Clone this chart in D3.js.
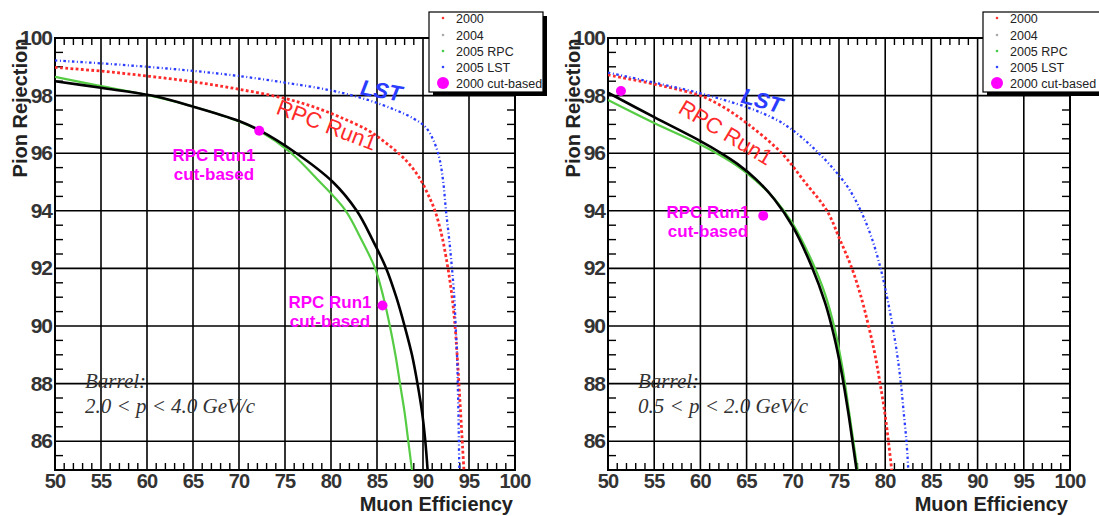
<!DOCTYPE html>
<html><head><meta charset="utf-8">
<script src="https://cdn.jsdelivr.net/npm/d3@7"></script>
<style>body{margin:0;background:#fff;} svg{display:block;}</style>
</head><body>
<svg id="c" width="1099" height="516"></svg>
<script>
// ---------- data ----------
const xTickValues = [50,55,60,65,70,75,80,85,90,95,100];
const yTickValues = [86,88,90,92,94,96,98,100];
const legendLabels = ["2000","2004","2005 RPC","2005 LST","2000 cut-based"];

// Left panel: Barrel 2.0 < p < 4.0 GeV/c  ([muon eff, pion rej])
const left2000 = [[50,98.98],[55,98.85],[60,98.68],[65,98.48],[70,98.22],[75,97.9],[78,97.62],[81,97.25],[84,96.8],[86,96.35],[88,95.8],[89.5,95.2],[90.5,94.6],[91.3,94.0],[92,93.2],[92.5,92.4],[93,91.4],[93.4,90.3],[93.75,88.8],[94.05,87.2],[94.3,85.8],[94.45,85]];
const left2004 = [[50,98.5],[55,98.27],[60.5,98],[65,97.62],[70,97.12],[72.2,96.8],[76,96.05],[80.2,95],[82.8,94],[84.5,93],[86.0,92],[87.1,91],[88.0,90],[88.8,89],[89.4,88],[89.9,87],[90.25,86],[90.5,85]];
const left2005RPC = [[50,98.65],[55,98.33],[60,98.02],[65,97.62],[70,97.1],[72.2,96.78],[75.5,96.05],[78.8,95],[81.6,94],[83.3,93],[84.8,92],[85.7,91],[86.4,90],[87.0,89],[87.5,88],[88.0,87],[88.4,86],[88.8,85]];
const left2005LST = [[50,99.22],[55,99.12],[60,99.0],[65,98.86],[70,98.68],[75,98.45],[80,98.18],[84,97.85],[87,97.5],[89,97.2],[90.3,96.9],[91.2,96.4],[91.8,95.8],[92.2,95],[92.5,94],[92.85,93],[93.15,92],[93.4,91],[93.55,90],[93.7,89],[93.78,88],[93.85,87],[93.9,86],[93.95,85]];
const leftCut = [[72.2,96.78],[85.6,90.71]];

// Right panel: Barrel 0.5 < p < 2.0 GeV/c
const right2000 = [[50,98.72],[55,98.4],[58,98.18],[60,98.0],[62.5,97.6],[65.2,97],[68.8,96],[71.3,95],[73.7,94],[75.1,93],[76.4,92],[77.4,91],[78.2,90],[78.9,89],[79.45,88],[79.95,87],[80.35,86],[80.7,85]];
const right2004 = [[50,98.1],[55,97.25],[60,96.42],[62,96.05],[64,95.63],[66,95.1],[68,94.4],[70,93.45],[72,92.1],[73.5,90.8],[74.5,89.6],[75.3,88.35],[76,87.0],[76.5,85.9],[76.9,85]];
const right2005RPC = [[50,97.85],[55,97.05],[60,96.3],[62,95.95],[64,95.55],[66,95.05],[68,94.42],[70,93.55],[72,92.3],[73.5,91.1],[74.5,89.95],[75.4,88.5],[76.1,87.0],[76.6,85.9],[77.0,85]];
const right2005LST = [[50,98.8],[55,98.45],[60,98.08],[65,97.6],[68,97.2],[70,96.8],[72,96.25],[74,95.6],[76,94.8],[77.5,93.9],[78.6,93],[79.5,92],[80.2,91],[80.8,90],[81.3,89],[81.7,88],[82.0,87],[82.3,86],[82.5,85]];
const rightCut = [[51.4,98.16],[66.8,93.83]];

// ---------- drawing ----------
const svg = d3.select("#c");
const FONT = "'Liberation Sans', Arial, sans-serif";
const SERIF = "'Liberation Serif', 'Times New Roman', serif";
const RED = "#ff2a2a", BLUE = "#2a3cff", GREEN = "#55cc44", MAG = "#ff00ff";

function panel(o) {
  const g = svg.append("g");
  const x = d3.scaleLinear().domain([50,100]).range([o.x0, o.x1]);
  const y = d3.scaleLinear().domain([85,100]).range([470, 38]);
  const id = "clip" + o.key;
  svg.append("clipPath").attr("id", id).append("rect")
    .attr("x", o.x0).attr("y", 38).attr("width", o.x1 - o.x0).attr("height", 432);

  // grid
  g.selectAll(".gx").data(xTickValues.slice(1,-1)).join("line")
    .attr("x1", d=>x(d)).attr("x2", d=>x(d)).attr("y1", 38).attr("y2", 470)
    .attr("stroke", "#000").attr("stroke-width", 1.6);
  g.selectAll(".gy").data(yTickValues.slice(0,-1)).join("line")
    .attr("y1", d=>y(d)).attr("y2", d=>y(d)).attr("x1", o.x0).attr("x2", o.x1)
    .attr("stroke", "#000").attr("stroke-width", 1.6);

  // minor ticks
  const xm = d3.range(51,100,1).filter(v=>v%5!==0);
  const ym = d3.range(85.5,100,0.5).filter(v=>v%2!==0);
  g.selectAll(".mxb").data(xm).join("line")
    .attr("x1", d=>x(d)).attr("x2", d=>x(d)).attr("y1", 470).attr("y2", 463)
    .attr("stroke", "#000").attr("stroke-width", 1.4);
  g.selectAll(".mxt").data(xm).join("line")
    .attr("x1", d=>x(d)).attr("x2", d=>x(d)).attr("y1", 38).attr("y2", 45)
    .attr("stroke", "#000").attr("stroke-width", 1.4);
  g.selectAll(".myl").data(ym).join("line")
    .attr("y1", d=>y(d)).attr("y2", d=>y(d)).attr("x1", o.x0).attr("x2", o.x0+8)
    .attr("stroke", "#000").attr("stroke-width", 1.4);
  g.selectAll(".myr").data(ym).join("line")
    .attr("y1", d=>y(d)).attr("y2", d=>y(d)).attr("x1", o.x1).attr("x2", o.x1-8)
    .attr("stroke", "#000").attr("stroke-width", 1.4);

  // frame
  g.append("rect").attr("x", o.x0).attr("y", 38).attr("width", o.x1-o.x0).attr("height", 432)
    .attr("fill", "none").attr("stroke", "#000").attr("stroke-width", 2);

  // tick labels
  g.selectAll(".xl").data(xTickValues).join("text")
    .attr("x", d=>x(d)).attr("y", 488).attr("text-anchor", "middle")
    .attr("font-family", FONT).attr("font-weight", "bold").attr("font-size", 20)
    .attr("letter-spacing", -0.8).attr("fill", "#333").text(d=>d);
  g.selectAll(".yl").data(yTickValues).join("text")
    .attr("x", o.x0 - 3).attr("y", d=>y(d) + 7).attr("text-anchor", "end")
    .attr("font-family", FONT).attr("font-weight", "bold").attr("font-size", 21)
    .attr("letter-spacing", -1).attr("fill", "#333").text(d=>d);

  // axis titles
  g.append("text").attr("x", o.x1 - 2).attr("y", 511).attr("text-anchor", "end")
    .attr("font-family", FONT).attr("font-weight", "bold").attr("font-size", 20)
    .attr("fill", "#222").text("Muon Efficiency");
  g.append("text").attr("transform", `translate(${o.x0-28},108) rotate(-90)`)
    .attr("text-anchor", "middle").attr("font-family", FONT).attr("font-weight", "bold")
    .attr("font-size", 20).attr("fill", "#222").text("Pion Rejection");

  // curves
  const line = d3.line().x(d=>x(d[0])).y(d=>y(d[1])).curve(d3.curveCatmullRom.alpha(0.5));
  const cg = g.append("g").attr("clip-path", `url(#${id})`);
  cg.append("path").attr("d", line(o.rpc)).attr("fill", "none").attr("stroke", GREEN).attr("stroke-width", 2.2);
  cg.append("path").attr("d", line(o.black)).attr("fill", "none").attr("stroke", "#000").attr("stroke-width", 2.6);
  cg.append("path").attr("d", line(o.red)).attr("fill", "none").attr("stroke", RED).attr("stroke-width", 2.8)
    .attr("stroke-dasharray", "2.8,2.4");
  cg.append("path").attr("d", line(o.blue)).attr("fill", "none").attr("stroke", BLUE).attr("stroke-width", 2.3)
    .attr("stroke-dasharray", "2.5,2.5,1,2.5");
  cg.selectAll(".cut").data(o.cut).join("circle")
    .attr("cx", d=>x(d[0])).attr("cy", d=>y(d[1])).attr("r", 5).attr("fill", MAG);

  // annotations
  o.notes.forEach(n => {
    const t = g.append("text").attr("transform", `translate(${n.x},${n.y}) rotate(${n.r||0})`)
      .attr("text-anchor", n.anchor || "middle").attr("font-family", n.family || FONT)
      .attr("font-weight", n.weight || "bold").attr("font-style", n.style || "normal")
      .attr("font-size", n.size).attr("fill", n.color);
    if (n.lines) {
      n.lines.forEach((l,i)=> t.append("tspan").attr("x", 0).attr("dy", i===0 ? 0 : n.lh).text(l));
    } else t.text(n.text);
  });

  // legend
  const lg = svg.append("g");
  const lw = o.legW;
  lg.append("rect").attr("x", o.legX+4).attr("y", 16).attr("width", lw).attr("height", 80).attr("fill", "#000");
  lg.append("rect").attr("x", o.legX).attr("y", 12).attr("width", lw).attr("height", 80)
    .attr("fill", "#fff").attr("stroke", "#000").attr("stroke-width", 1.2);
  const lid = "lclip" + o.key;
  svg.append("clipPath").attr("id", lid).append("rect")
    .attr("x", o.legX).attr("y", 12).attr("width", lw - 1).attr("height", 80);
  const cols = ["#ff3333", "#aaaaaa", "#44cc44", "#3344ff", MAG];
  const rowsY = [18, 35, 51, 67, 83];
  legendLabels.forEach((l,i)=>{
    lg.append("circle").attr("cx", o.legX+14).attr("cy", rowsY[i]).attr("r", i===4 ? 6 : 1.3).attr("fill", cols[i]);
    lg.append("text").attr("x", o.legX+27).attr("y", rowsY[i]+4.5).attr("clip-path", `url(#${lid})`)
      .attr("font-family", FONT).attr("font-size", 12.5).attr("fill", "#222").text(l);
  });
}

panel({key:"L", x0:55, x1:515, legX:429, legW:114,
  red:left2000, black:left2004, rpc:left2005RPC, blue:left2005LST, cut:leftCut,
  notes:[
    {x:214, y:161, lines:["RPC Run1","cut-based"], lh:19, size:17, color:MAG},
    {x:330, y:308, lines:["RPC Run1","cut-based"], lh:19, size:17, color:MAG},
    {x:324, y:132, r:21, text:"RPC Run1", size:22, weight:"normal", color:RED},
    {x:380, y:98, r:10, text:"LST", size:22, weight:"bold", style:"italic", color:BLUE},
    {x:85, y:388, anchor:"start", text:"Barrel:", size:21, weight:"normal", style:"italic", family:SERIF, color:"#333"},
    {x:85, y:413, anchor:"start", text:"2.0 < p < 4.0 GeV/c", size:21, weight:"normal", style:"italic", family:SERIF, color:"#333"}
  ]});
panel({key:"R", x0:608, x1:1070, legX:983, legW:125,
  red:right2000, black:right2004, rpc:right2005RPC, blue:right2005LST, cut:rightCut,
  notes:[
    {x:708, y:218, lines:["RPC Run1","cut-based"], lh:19, size:17, color:MAG},
    {x:722, y:139, r:31, text:"RPC Run1", size:22, weight:"normal", color:RED},
    {x:760, y:108, r:15, text:"LST", size:22, weight:"bold", style:"italic", color:BLUE},
    {x:638, y:388, anchor:"start", text:"Barrel:", size:21, weight:"normal", style:"italic", family:SERIF, color:"#333"},
    {x:638, y:413, anchor:"start", text:"0.5 < p < 2.0 GeV/c", size:21, weight:"normal", style:"italic", family:SERIF, color:"#333"}
  ]});
</script>
</body></html>
